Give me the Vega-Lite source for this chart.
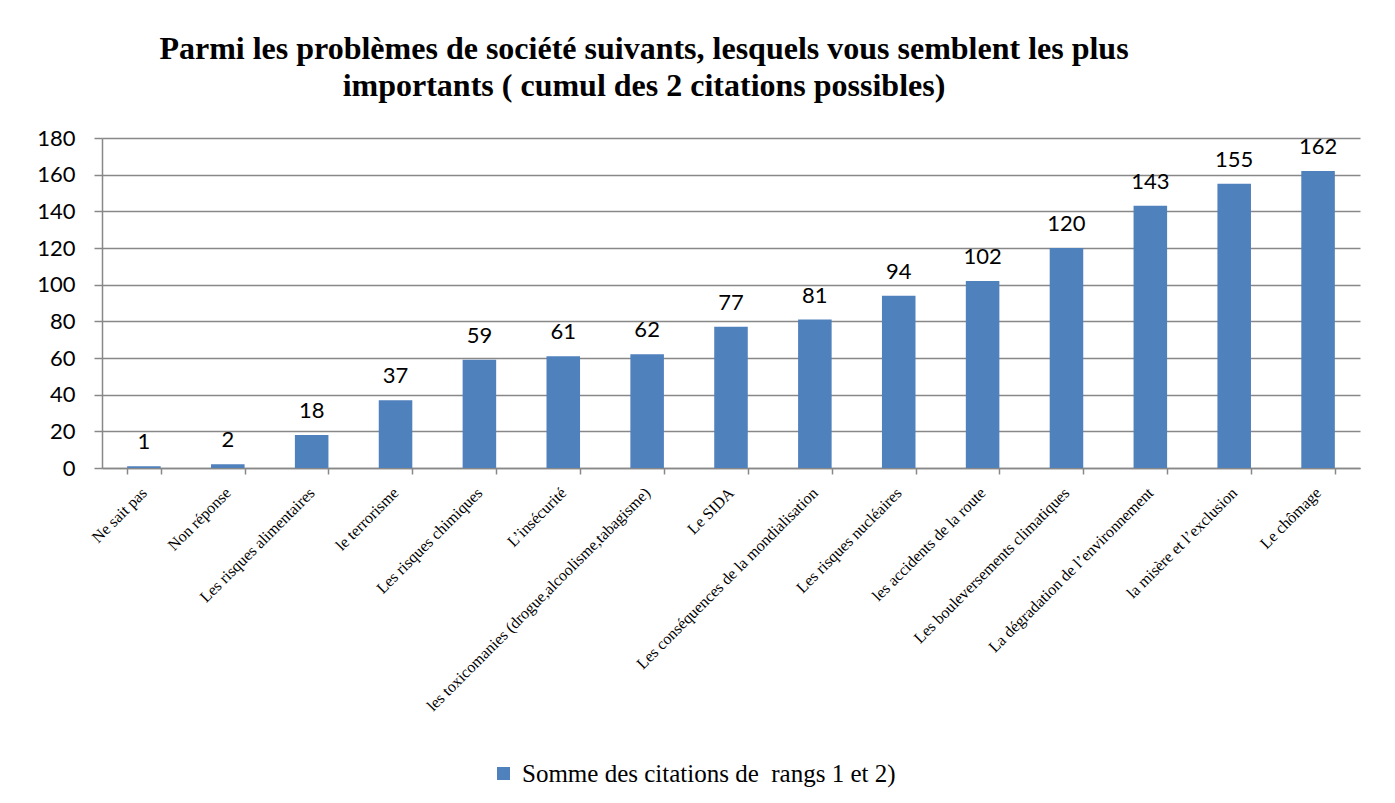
{
  "$schema": "https://vega.github.io/schema/vega-lite/v6.json",
  "autosize": "none",
  "width": 1258,
  "height": 330,
  "padding": {"left": 102, "top": 138, "right": 35, "bottom": 335},
  "background": "white",
  "title": {
    "text": ["Parmi les problèmes de société suivants, lesquels vous semblent les plus", "importants ( cumul des 2 citations possibles)"],
    "font": "Liberation Serif",
    "fontSize": 32,
    "fontWeight": "bold",
    "color": "black",
    "anchor": "middle",
    "dx": -87,
    "offset": 24,
    "lineHeight": 37
  },
  "data": {
    "values": [
      {"cat": "Ne sait pas", "v": 1, "s": "Somme des citations de\u00a0 rangs 1 et 2)"},
      {"cat": "Non réponse", "v": 2, "s": "Somme des citations de\u00a0 rangs 1 et 2)"},
      {"cat": "Les risques alimentaires", "v": 18, "s": "Somme des citations de\u00a0 rangs 1 et 2)"},
      {"cat": "le terrorisme", "v": 37, "s": "Somme des citations de\u00a0 rangs 1 et 2)"},
      {"cat": "Les risques chimiques", "v": 59, "s": "Somme des citations de\u00a0 rangs 1 et 2)"},
      {"cat": "L’insécurité", "v": 61, "s": "Somme des citations de\u00a0 rangs 1 et 2)"},
      {"cat": "les toxicomanies (drogue,alcoolisme,tabagisme)", "v": 62, "s": "Somme des citations de\u00a0 rangs 1 et 2)"},
      {"cat": "Le SIDA", "v": 77, "s": "Somme des citations de\u00a0 rangs 1 et 2)"},
      {"cat": "Les conséquences de la mondialisation", "v": 81, "s": "Somme des citations de\u00a0 rangs 1 et 2)"},
      {"cat": "Les risques nucléaires", "v": 94, "s": "Somme des citations de\u00a0 rangs 1 et 2)"},
      {"cat": "les accidents de la route", "v": 102, "s": "Somme des citations de\u00a0 rangs 1 et 2)"},
      {"cat": "Les bouleversements climatiques", "v": 120, "s": "Somme des citations de\u00a0 rangs 1 et 2)"},
      {"cat": "La dégradation de l’environnement", "v": 143, "s": "Somme des citations de\u00a0 rangs 1 et 2)"},
      {"cat": "la misère et l’exclusion", "v": 155, "s": "Somme des citations de\u00a0 rangs 1 et 2)"},
      {"cat": "Le chômage", "v": 162, "s": "Somme des citations de\u00a0 rangs 1 et 2)"}
    ]
  },
  "encoding": {
    "x": {
      "field": "cat",
      "type": "nominal",
      "sort": null,
      "scale": {"paddingInner": 0.6, "paddingOuter": 0.3},
      "axis": {
        "title": null,
        "labelAngle": -45,
        "labelAlign": "right",
        "labelBaseline": "middle",
        "labelFont": "Liberation Serif",
        "labelFontSize": 16,
        "labelColor": "black",
        "labelPadding": 16,
        "labelLimit": 500,
        "tickBand": "extent",
        "tickSize": 6,
        "tickColor": "#888888",
        "tickWidth": 1.5,
        "domainColor": "#888888",
        "domainWidth": 1.5,
        "grid": false
      }
    },
    "y": {
      "field": "v",
      "type": "quantitative",
      "scale": {"domain": [0, 180], "nice": false},
      "axis": {
        "title": null,
        "values": [0, 20, 40, 60, 80, 100, 120, 140, 160, 180],
        "labelFont": "Lato",
        "labelFontSize": 22,
        "labelColor": "black",
        "labelPadding": 19,
        "tickSize": 8,
        "tickColor": "#888888",
        "tickWidth": 1.5,
        "domainColor": "#888888",
        "domainWidth": 1.5,
        "grid": true,
        "gridColor": "#888888",
        "gridWidth": 1.5
      }
    }
  },
  "layer": [
    {
      "mark": {"type": "bar", "color": "#4F81BD"},
      "encoding": {
        "fill": {
          "field": "s",
          "type": "nominal",
          "scale": {"range": ["#4F81BD"]},
          "legend": {
            "title": null,
            "orient": "none",
            "legendX": 389,
            "legendY": 623,
            "symbolType": "square",
            "symbolSize": 169,
            "symbolStrokeWidth": 0,
            "labelFont": "Liberation Serif",
            "labelFontSize": 25,
            "labelColor": "black",
            "labelLimit": 700,
            "labelOffset": 6
          }
        }
      }
    },
    {
      "mark": {"type": "text", "baseline": "alphabetic", "dy": -17, "font": "Lato", "fontSize": 22, "color": "black"},
      "encoding": {"text": {"field": "v", "type": "quantitative"}}
    }
  ],
  "config": {"view": {"stroke": null}}
}
